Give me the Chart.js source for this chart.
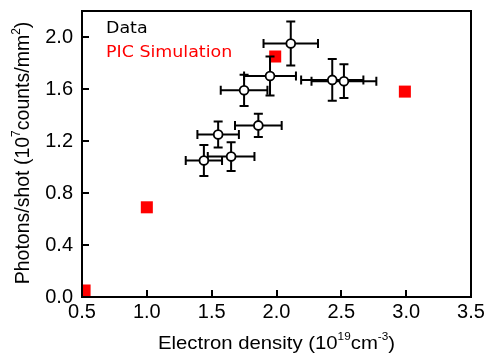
<!DOCTYPE html>
<html>
<head>
<meta charset="utf-8">
<script src="https://cdn.jsdelivr.net/npm/chart.js@4.4.0/dist/chart.umd.min.js"></script>
<style>
    html, body { margin: 0; padding: 0; background: #ffffff; }
    #wrap { width: 487px; height: 356px; position: relative; }
</style>
</head>
<body>
<div id="wrap"><canvas id="chart"></canvas></div>
<script>
// Measured points (electron density vs photons per shot) with error bars
const expDensity = [1.44, 1.65, 1.55, 1.86, 1.75, 1.95, 2.11, 2.43, 2.52];
const expPhotons = [1.05, 1.08, 1.25, 1.32, 1.59, 1.70, 1.95, 1.67, 1.66];
const expDensityErr = [0.14, 0.18, 0.16, 0.18, 0.18, 0.20, 0.21, 0.24, 0.25];
const expPhotonsErr = [0.12, 0.11, 0.10, 0.09, 0.12, 0.15, 0.17, 0.16, 0.13];

// PIC simulation results
const simDensity = [0.52, 1.0, 1.99, 2.99];
const simPhotons = [0.05, 0.69, 1.85, 1.58];

// Tick values
const xTicks = [0.5, 1.0, 1.5, 2.0, 2.5, 3.0, 3.5];
const yTicks = [0.0, 0.4, 0.8, 1.2, 1.6, 2.0];

const legendItems = ['Data', 'PIC Simulation'];
const legendColors = ['#000000', '#ff0000'];

const tickFont = { family: '"Liberation Sans", Arial, sans-serif', size: 20 };

/**
 * Draws text pieces on a baseline, some of them raised as superscripts
 * stretch widens the glyphs a little, the source figure is slightly wide
 */
function drawRichText(ctx, parts, x, y, size, stretch) {
    const supSize = Math.round(size * 0.6);
    let total = 0;
    parts.forEach(p => {
        ctx.font = (p.sup ? supSize : size) + 'px "Liberation Sans", Arial, sans-serif';
        p.w = ctx.measureText(p.text).width;
        total += p.w;
    });
    ctx.save();
    ctx.translate(x, y);
    ctx.scale(stretch, 1);
    let cx = -total / 2;
    ctx.textAlign = 'left';
    ctx.textBaseline = 'alphabetic';
    parts.forEach(p => {
        ctx.font = (p.sup ? supSize : size) + 'px "Liberation Sans", Arial, sans-serif';
        ctx.fillText(p.text, cx, p.sup ? -size * 0.45 : 0);
        cx += p.w;
    });
    ctx.restore();
}

// Error bars go under the open circles
const errorBarsPlugin = {
    id: 'errorBars',
    beforeDatasetDraw(chart, args) {
        if (args.index !== 0) return;
        const { ctx, scales: { x, y } } = chart;
        const cap = 4.5;
        ctx.save();
        ctx.strokeStyle = '#000000';
        ctx.lineWidth = 2;
        ctx.lineCap = 'butt';
        expDensity.forEach((d, i) => {
            const px = x.getPixelForValue(d);
            const py = y.getPixelForValue(expPhotons[i]);
            const x0 = x.getPixelForValue(d - expDensityErr[i]);
            const x1 = x.getPixelForValue(d + expDensityErr[i]);
            const y0 = y.getPixelForValue(expPhotons[i] - expPhotonsErr[i]);
            const y1 = y.getPixelForValue(expPhotons[i] + expPhotonsErr[i]);
            ctx.beginPath();
            ctx.moveTo(x0, py); ctx.lineTo(x1, py);
            ctx.moveTo(x0, py - cap); ctx.lineTo(x0, py + cap);
            ctx.moveTo(x1, py - cap); ctx.lineTo(x1, py + cap);
            ctx.moveTo(px, y0); ctx.lineTo(px, y1);
            ctx.moveTo(px - cap, y0); ctx.lineTo(px + cap, y0);
            ctx.moveTo(px - cap, y1); ctx.lineTo(px + cap, y1);
            ctx.stroke();
        });
        ctx.restore();
    }
};

// Frame, inward ticks, legend text and axis titles
const framePlugin = {
    id: 'frame',
    afterDraw(chart) {
        const { ctx, chartArea: a, scales: { x, y } } = chart;
        ctx.save();
        ctx.strokeStyle = '#000000';
        ctx.lineWidth = 2;
        ctx.strokeRect(a.left, a.top, a.right - a.left, a.bottom - a.top);

        const tickLen = 7;
        ctx.beginPath();
        xTicks.forEach(v => {
            const px = Math.round(x.getPixelForValue(v));
            ctx.moveTo(px, a.bottom);
            ctx.lineTo(px, a.bottom - tickLen);
        });
        yTicks.forEach(v => {
            const py = Math.round(y.getPixelForValue(v));
            ctx.moveTo(a.left, py);
            ctx.lineTo(a.left + tickLen, py);
        });
        ctx.stroke();

        // legend, text only
        ctx.textAlign = 'left';
        ctx.textBaseline = 'middle';
        legendItems.forEach((t, i) => {
            ctx.save();
            ctx.translate(a.left + 24, a.top + 18 + i * 24);
            ctx.scale(1.09, 1);
            ctx.font = '16px "DejaVu Sans", sans-serif';
            ctx.fillStyle = legendColors[i];
            ctx.fillText(t, 0, 0);
            ctx.restore();
        });

        // axis titles
        ctx.fillStyle = '#000000';
        drawRichText(ctx, [
            { text: 'Electron density (10' },
            { text: '19', sup: true },
            { text: 'cm' },
            { text: '-3', sup: true },
            { text: ')' }
        ], (a.left + a.right) / 2, 349, 19, 1.07);

        ctx.translate(29, 153);
        ctx.rotate(-Math.PI / 2);
        drawRichText(ctx, [
            { text: 'Photons/shot (10' },
            { text: '7', sup: true },
            { text: 'counts/mm' },
            { text: '2', sup: true },
            { text: ')' }
        ], 0, 0, 19.5, 1);
        ctx.restore();
    }
};

const config = {
    type: 'scatter',
    data: {
        datasets: [{
            label: legendItems[0],
            data: expDensity.map((d, i) => ({ x: d, y: expPhotons[i] })),
            pointStyle: 'circle',
            pointRadius: 4.4,
            backgroundColor: '#ffffff',
            borderColor: '#000000',
            borderWidth: 1.8
        }, {
            label: legendItems[1],
            data: simDensity.map((d, i) => ({ x: d, y: simPhotons[i] })),
            pointStyle: 'rect',
            pointRadius: 8.5,
            backgroundColor: '#ff0000',
            borderWidth: 0,
            clip: 0
        }]
    },
    options: {
        responsive: true,
        maintainAspectRatio: false,
        animation: false,
        events: [],
        layout: {
            padding: { top: 11, right: 16, left: 0, bottom: 0 }
        },
        plugins: {
            legend: { display: false },
            tooltip: { enabled: false }
        },
        scales: {
            x: {
                type: 'linear',
                min: 0.5,
                max: 3.5,
                afterBuildTicks: scale => { scale.ticks = xTicks.map(v => ({ value: v })); },
                afterFit: scale => {
                    scale.height = 59;
                    scale.paddingLeft = 0;
                    scale.paddingRight = 0;
                },
                border: { display: false },
                grid: { display: false, drawTicks: false },
                ticks: {
                    font: tickFont,
                    color: '#000000',
                    padding: 3,
                    maxRotation: 0,
                    callback: v => v.toFixed(1)
                }
            },
            y: {
                type: 'linear',
                min: 0,
                max: 2.2,
                afterBuildTicks: scale => { scale.ticks = yTicks.map(v => ({ value: v })); },
                afterFit: scale => {
                    scale.width = 82;
                    scale.paddingTop = 0;
                    scale.paddingBottom = 0;
                },
                border: { display: false },
                grid: { display: false, drawTicks: false },
                ticks: {
                    font: tickFont,
                    color: '#000000',
                    padding: 9,
                    callback: v => v.toFixed(1)
                }
            }
        }
    },
    plugins: [errorBarsPlugin, framePlugin]
};

new Chart(document.getElementById('chart').getContext('2d'), config);
</script>
</body>
</html>
